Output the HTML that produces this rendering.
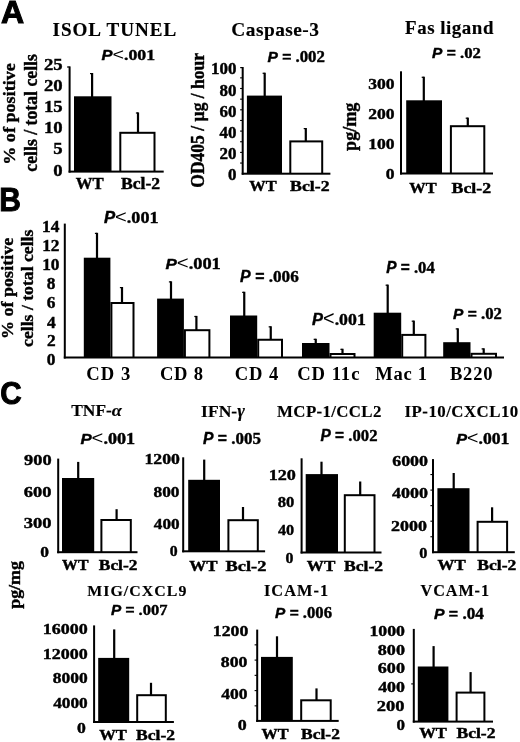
<!DOCTYPE html>
<html><head><meta charset="utf-8"><style>
html,body{margin:0;padding:0;background:#fff;}
body{width:520px;height:742px;overflow:hidden;}
svg{display:block;filter:blur(0.4px)}
text{stroke:#000;stroke-width:0.4px;}
.l text,text.l{stroke-width:0.15px}
.n text,text.n{stroke:none}
text.pl{stroke-width:1px}
</style></head><body>
<svg width="520" height="742" viewBox="0 0 520 742">
<rect width="520" height="742" fill="#fff"/>
<text transform="translate(0.90,22.50) scale(1.0301,1)" class="pl" x="0.00" y="0" font-size="31.10" font-family='"Liberation Sans", sans-serif' font-weight="bold" font-style="normal">A</text>
<text transform="translate(-0.71,210.70) scale(0.9173,1)" class="pl" x="0.00" y="0" font-size="32.70" font-family='"Liberation Sans", sans-serif' font-weight="bold" font-style="normal">B</text>
<text transform="translate(0.18,404.38) scale(0.9252,1)" class="pl" x="0.00" y="0" font-size="32.06" font-family='"Liberation Sans", sans-serif' font-weight="bold" font-style="normal">C</text>
<rect x="68.60" y="66.40" width="2.00" height="106.20" fill="#000"/>
<rect x="68.60" y="170.60" width="95.10" height="2.00" fill="#000"/>
<rect x="67.10" y="66.40" width="2.50" height="1.20" fill="#000"/>
<rect x="91.00" y="73.00" width="2.20" height="24.30" fill="#000"/>
<rect x="90.00" y="73.00" width="2.10" height="1.20" fill="#000"/>
<rect x="74.00" y="96.30" width="37.50" height="75.30" fill="#000"/>
<rect x="136.90" y="112.40" width="2.20" height="20.40" fill="#000"/>
<rect x="135.90" y="112.40" width="2.10" height="1.20" fill="#000"/>
<rect x="119.30" y="131.80" width="36.20" height="39.80" fill="#000"/>
<rect x="121.30" y="133.80" width="32.20" height="36.80" fill="#fff"/>
<text transform="translate(52.45,36.00) scale(1.0351,1)" class="l" letter-spacing="0.965" x="0.00" y="0" font-size="18.47" font-family='"Liberation Serif", serif' font-weight="bold" font-style="normal">ISOL TUNEL</text>
<g transform="translate(101.40,59.50) scale(1.1577,1)"><text x="0.00" y="0" font-size="14.24" font-family='"Liberation Sans", sans-serif' font-weight="bold" font-style="italic">P</text><text x="9.50" y="0" font-size="17.09" font-family='"Liberation Sans", sans-serif' font-weight="normal" font-style="normal" class="n">&lt;</text><text x="19.48" y="0" font-size="15.38" font-family='"Liberation Serif", serif' font-weight="bold" font-style="normal">.001</text></g>
<text transform="translate(43.97,69.70) scale(1.0700,1)" x="0.00" y="0" font-size="17.50" font-family='"Liberation Serif", serif' font-weight="bold" font-style="normal">25</text>
<text transform="translate(43.99,90.93) scale(1.0700,1)" x="0.00" y="0" font-size="17.50" font-family='"Liberation Serif", serif' font-weight="bold" font-style="normal">20</text>
<text transform="translate(43.97,112.09) scale(1.0700,1)" x="0.00" y="0" font-size="17.50" font-family='"Liberation Serif", serif' font-weight="bold" font-style="normal">15</text>
<text transform="translate(43.99,133.33) scale(1.0700,1)" x="0.00" y="0" font-size="17.50" font-family='"Liberation Serif", serif' font-weight="bold" font-style="normal">10</text>
<text transform="translate(53.33,154.44) scale(1.0700,1)" x="0.00" y="0" font-size="17.50" font-family='"Liberation Serif", serif' font-weight="bold" font-style="normal">5</text>
<text transform="translate(53.35,175.73) scale(1.0700,1)" x="0.00" y="0" font-size="17.50" font-family='"Liberation Serif", serif' font-weight="bold" font-style="normal">0</text>
<text transform="translate(75.66,188.95) scale(1.0626,1)" x="0.00" y="0" font-size="15.80" font-family='"Liberation Serif", serif' font-weight="bold" font-style="normal">WT</text>
<text transform="translate(121.00,188.95) scale(1.1154,1)" x="0.00" y="0" font-size="15.80" font-family='"Liberation Serif", serif' font-weight="bold" font-style="normal">Bcl-2</text>
<text transform="translate(14.70,164.75) rotate(-90) scale(1.0349,1)" y="0" fill="#000" xml:space="preserve"><tspan x="0.00" font-size="17.50" font-family='"Liberation Serif", serif' font-weight="bold" font-style="normal">% of positive</tspan></text>
<text transform="translate(36.80,171.70) rotate(-90) scale(0.9846,1)" y="0" fill="#000" xml:space="preserve"><tspan x="0.00" font-size="18.00" font-family='"Liberation Serif", serif' font-weight="bold" font-style="normal">cells / total cells</tspan></text>
<rect x="241.70" y="67.00" width="2.00" height="107.70" fill="#000"/>
<rect x="241.70" y="172.70" width="88.70" height="2.00" fill="#000"/>
<rect x="240.20" y="67.00" width="2.50" height="1.20" fill="#000"/>
<rect x="240.10" y="77.30" width="2.60" height="1.10" fill="#000"/>
<rect x="240.10" y="87.95" width="2.60" height="1.10" fill="#000"/>
<rect x="240.10" y="98.60" width="2.60" height="1.10" fill="#000"/>
<rect x="240.10" y="109.25" width="2.60" height="1.10" fill="#000"/>
<rect x="240.10" y="119.90" width="2.60" height="1.10" fill="#000"/>
<rect x="240.10" y="130.55" width="2.60" height="1.10" fill="#000"/>
<rect x="240.10" y="141.20" width="2.60" height="1.10" fill="#000"/>
<rect x="240.10" y="151.85" width="2.60" height="1.10" fill="#000"/>
<rect x="240.10" y="162.50" width="2.60" height="1.10" fill="#000"/>
<rect x="263.60" y="72.70" width="2.20" height="23.90" fill="#000"/>
<rect x="262.60" y="72.70" width="2.10" height="1.20" fill="#000"/>
<rect x="246.90" y="95.60" width="35.10" height="78.10" fill="#000"/>
<rect x="304.70" y="128.00" width="2.20" height="13.40" fill="#000"/>
<rect x="303.70" y="128.00" width="2.10" height="1.20" fill="#000"/>
<rect x="289.30" y="140.40" width="33.90" height="33.30" fill="#000"/>
<rect x="291.30" y="142.40" width="29.90" height="30.30" fill="#fff"/>
<text transform="translate(231.35,36.31) scale(1.0186,1)" class="l" letter-spacing="0.432" x="0.00" y="0" font-size="19.05" font-family='"Liberation Serif", serif' font-weight="bold" font-style="normal">Caspase-3</text>
<g transform="translate(267.42,61.90) scale(1.0514,1)"><text x="0.00" y="0" font-size="14.83" font-family='"Liberation Sans", sans-serif' font-weight="bold" font-style="italic">P</text><text x="14.01" y="0" font-size="14.83" font-family='"Liberation Sans", sans-serif' font-weight="bold" font-style="normal">=</text><text x="26.67" y="0" font-size="16.01" font-family='"Liberation Serif", serif' font-weight="bold" font-style="normal">.002</text></g>
<text transform="translate(211.01,74.44) scale(1.0800,1)" x="0.00" y="0" font-size="15.70" font-family='"Liberation Serif", serif' font-weight="bold" font-style="normal">100</text>
<text transform="translate(219.49,95.54) scale(1.0800,1)" x="0.00" y="0" font-size="15.70" font-family='"Liberation Serif", serif' font-weight="bold" font-style="normal">80</text>
<text transform="translate(219.49,116.74) scale(1.0800,1)" x="0.00" y="0" font-size="15.70" font-family='"Liberation Serif", serif' font-weight="bold" font-style="normal">60</text>
<text transform="translate(219.49,137.84) scale(1.0800,1)" x="0.00" y="0" font-size="15.70" font-family='"Liberation Serif", serif' font-weight="bold" font-style="normal">40</text>
<text transform="translate(219.49,159.04) scale(1.0800,1)" x="0.00" y="0" font-size="15.70" font-family='"Liberation Serif", serif' font-weight="bold" font-style="normal">20</text>
<text transform="translate(227.97,180.14) scale(1.0800,1)" x="0.00" y="0" font-size="15.70" font-family='"Liberation Serif", serif' font-weight="bold" font-style="normal">0</text>
<text transform="translate(249.37,190.56) scale(1.1022,1)" x="0.00" y="0" font-size="14.90" font-family='"Liberation Serif", serif' font-weight="bold" font-style="normal">WT</text>
<text transform="translate(290.10,190.56) scale(1.1920,1)" x="0.00" y="0" font-size="14.90" font-family='"Liberation Serif", serif' font-weight="bold" font-style="normal">Bcl-2</text>
<text transform="translate(203.50,187.76) rotate(-90) scale(0.9759,1)" y="0" fill="#000" xml:space="preserve"><tspan x="0.00" font-size="18.00" font-family='"Liberation Serif", serif' font-weight="bold" font-style="normal">OD405 / µg / hour</tspan></text>
<rect x="400.00" y="71.30" width="2.00" height="103.20" fill="#000"/>
<rect x="400.00" y="172.50" width="93.00" height="2.00" fill="#000"/>
<rect x="422.70" y="76.70" width="2.20" height="24.60" fill="#000"/>
<rect x="421.70" y="76.70" width="2.10" height="1.20" fill="#000"/>
<rect x="406.20" y="100.30" width="35.80" height="73.20" fill="#000"/>
<rect x="466.70" y="117.60" width="2.20" height="8.60" fill="#000"/>
<rect x="465.70" y="117.60" width="2.10" height="1.20" fill="#000"/>
<rect x="449.90" y="125.20" width="35.40" height="48.30" fill="#000"/>
<rect x="451.90" y="127.20" width="31.40" height="45.30" fill="#fff"/>
<text transform="translate(405.08,34.00) scale(1.0252,1)" class="l" letter-spacing="0.516" x="0.00" y="0" font-size="18.47" font-family='"Liberation Serif", serif' font-weight="bold" font-style="normal">Fas ligand</text>
<g transform="translate(432.12,58.20) scale(1.0769,1)"><text x="0.00" y="0" font-size="14.39" font-family='"Liberation Sans", sans-serif' font-weight="bold" font-style="italic">P</text><text x="13.60" y="0" font-size="14.39" font-family='"Liberation Sans", sans-serif' font-weight="bold" font-style="normal">=</text><text x="25.89" y="0" font-size="15.54" font-family='"Liberation Serif", serif' font-weight="bold" font-style="normal">.02</text></g>
<text transform="translate(368.25,89.45) scale(1.1900,1)" x="0.00" y="0" font-size="14.80" font-family='"Liberation Serif", serif' font-weight="bold" font-style="normal">300</text>
<text transform="translate(368.25,119.25) scale(1.1900,1)" x="0.00" y="0" font-size="14.80" font-family='"Liberation Serif", serif' font-weight="bold" font-style="normal">200</text>
<text transform="translate(368.25,149.35) scale(1.1900,1)" x="0.00" y="0" font-size="14.80" font-family='"Liberation Serif", serif' font-weight="bold" font-style="normal">100</text>
<text transform="translate(385.86,179.15) scale(1.1900,1)" x="0.00" y="0" font-size="14.80" font-family='"Liberation Serif", serif' font-weight="bold" font-style="normal">0</text>
<text transform="translate(409.37,192.56) scale(1.0804,1)" x="0.00" y="0" font-size="15.20" font-family='"Liberation Serif", serif' font-weight="bold" font-style="normal">WT</text>
<text transform="translate(451.60,192.56) scale(1.1716,1)" x="0.00" y="0" font-size="15.20" font-family='"Liberation Serif", serif' font-weight="bold" font-style="normal">Bcl-2</text>
<text transform="translate(356.20,150.94) rotate(-90) scale(1.0086,1)" y="0" fill="#000" xml:space="preserve"><tspan x="0.00" font-size="18.00" font-family='"Liberation Serif", serif' font-weight="bold" font-style="normal">pg/mg</tspan></text>
<rect x="63.80" y="223.60" width="2.00" height="134.90" fill="#000"/>
<rect x="63.80" y="356.50" width="440.20" height="2.00" fill="#000"/>
<rect x="95.90" y="232.80" width="2.20" height="25.90" fill="#000"/>
<rect x="94.90" y="232.80" width="2.10" height="1.20" fill="#000"/>
<rect x="83.80" y="257.70" width="26.60" height="99.80" fill="#000"/>
<rect x="120.90" y="287.00" width="2.20" height="16.00" fill="#000"/>
<rect x="119.90" y="287.00" width="2.10" height="1.20" fill="#000"/>
<rect x="110.40" y="302.00" width="24.10" height="55.50" fill="#000"/>
<rect x="112.40" y="304.00" width="20.10" height="52.50" fill="#fff"/>
<rect x="169.90" y="281.30" width="2.20" height="18.30" fill="#000"/>
<rect x="168.90" y="281.30" width="2.10" height="1.20" fill="#000"/>
<rect x="157.10" y="298.60" width="26.80" height="58.90" fill="#000"/>
<rect x="195.30" y="315.90" width="2.20" height="14.30" fill="#000"/>
<rect x="194.30" y="315.90" width="2.10" height="1.20" fill="#000"/>
<rect x="183.90" y="329.20" width="26.50" height="28.30" fill="#000"/>
<rect x="185.90" y="331.20" width="22.50" height="25.30" fill="#fff"/>
<rect x="243.15" y="291.75" width="2.20" height="24.75" fill="#000"/>
<rect x="242.15" y="291.75" width="2.10" height="1.20" fill="#000"/>
<rect x="230.00" y="315.50" width="27.20" height="42.00" fill="#000"/>
<rect x="269.65" y="326.25" width="2.20" height="13.50" fill="#000"/>
<rect x="268.65" y="326.25" width="2.10" height="1.20" fill="#000"/>
<rect x="257.20" y="338.75" width="25.80" height="18.75" fill="#000"/>
<rect x="259.20" y="340.75" width="21.80" height="15.75" fill="#fff"/>
<rect x="314.65" y="338.75" width="2.20" height="5.25" fill="#000"/>
<rect x="313.65" y="338.75" width="2.10" height="1.20" fill="#000"/>
<rect x="302.00" y="343.00" width="27.50" height="14.50" fill="#000"/>
<rect x="341.40" y="348.75" width="2.20" height="5.25" fill="#000"/>
<rect x="340.40" y="348.75" width="2.10" height="1.20" fill="#000"/>
<rect x="329.50" y="353.00" width="26.00" height="4.50" fill="#000"/>
<rect x="331.50" y="355.00" width="22.00" height="1.50" fill="#fff"/>
<rect x="386.60" y="284.60" width="2.20" height="29.10" fill="#000"/>
<rect x="385.60" y="284.60" width="2.10" height="1.20" fill="#000"/>
<rect x="373.70" y="312.70" width="27.50" height="44.80" fill="#000"/>
<rect x="412.70" y="320.60" width="2.20" height="14.30" fill="#000"/>
<rect x="411.70" y="320.60" width="2.10" height="1.20" fill="#000"/>
<rect x="401.20" y="333.90" width="25.20" height="23.60" fill="#000"/>
<rect x="403.20" y="335.90" width="21.20" height="20.60" fill="#fff"/>
<rect x="456.70" y="328.30" width="2.20" height="14.90" fill="#000"/>
<rect x="455.70" y="328.30" width="2.10" height="1.20" fill="#000"/>
<rect x="443.20" y="342.20" width="27.30" height="15.30" fill="#000"/>
<rect x="482.60" y="348.30" width="2.20" height="5.50" fill="#000"/>
<rect x="481.60" y="348.30" width="2.10" height="1.20" fill="#000"/>
<rect x="470.50" y="352.80" width="26.50" height="4.70" fill="#000"/>
<rect x="472.50" y="354.80" width="22.50" height="1.70" fill="#fff"/>
<text transform="translate(42.00,231.85) scale(1.0900,1)" x="0.00" y="0" font-size="15.90" font-family='"Liberation Serif", serif' font-weight="bold" font-style="normal">14</text>
<text transform="translate(42.21,250.76) scale(1.0900,1)" x="0.00" y="0" font-size="15.90" font-family='"Liberation Serif", serif' font-weight="bold" font-style="normal">12</text>
<text transform="translate(42.17,269.81) scale(1.0900,1)" x="0.00" y="0" font-size="15.90" font-family='"Liberation Serif", serif' font-weight="bold" font-style="normal">10</text>
<text transform="translate(46.87,289.21) scale(1.0900,1)" x="0.00" y="0" font-size="15.90" font-family='"Liberation Serif", serif' font-weight="bold" font-style="normal">8</text>
<text transform="translate(46.82,308.18) scale(1.0900,1)" x="0.00" y="0" font-size="15.90" font-family='"Liberation Serif", serif' font-weight="bold" font-style="normal">6</text>
<text transform="translate(46.90,327.63) scale(1.0900,1)" x="0.00" y="0" font-size="15.90" font-family='"Liberation Serif", serif' font-weight="bold" font-style="normal">4</text>
<text transform="translate(46.88,346.46) scale(1.0900,1)" x="0.00" y="0" font-size="15.90" font-family='"Liberation Serif", serif' font-weight="bold" font-style="normal">2</text>
<text transform="translate(46.87,365.21) scale(1.0900,1)" x="0.00" y="0" font-size="15.90" font-family='"Liberation Serif", serif' font-weight="bold" font-style="normal">0</text>
<text transform="translate(12.60,339.04) rotate(-90) scale(1.0318,1)" y="0" fill="#000" xml:space="preserve"><tspan x="0.00" font-size="17.50" font-family='"Liberation Serif", serif' font-weight="bold" font-style="normal">% of positive</tspan></text>
<text transform="translate(33.30,346.90) rotate(-90) scale(1.0101,1)" y="0" fill="#000" xml:space="preserve"><tspan x="0.00" font-size="17.50" font-family='"Liberation Serif", serif' font-weight="bold" font-style="normal">cells / total cells</tspan></text>
<g transform="translate(103.90,223.20) scale(1.0685,1)"><text x="0.00" y="0" font-size="15.70" font-family='"Liberation Sans", sans-serif' font-weight="bold" font-style="italic">P</text><text x="10.47" y="0" font-size="18.84" font-family='"Liberation Sans", sans-serif' font-weight="normal" font-style="normal" class="n">&lt;</text><text x="21.47" y="0" font-size="16.95" font-family='"Liberation Serif", serif' font-weight="bold" font-style="normal">.001</text></g>
<g transform="translate(165.39,269.20) scale(1.1155,1)"><text x="0.00" y="0" font-size="15.26" font-family='"Liberation Sans", sans-serif' font-weight="bold" font-style="italic">P</text><text x="10.18" y="0" font-size="18.31" font-family='"Liberation Sans", sans-serif' font-weight="normal" font-style="normal" class="n">&lt;</text><text x="20.87" y="0" font-size="16.48" font-family='"Liberation Serif", serif' font-weight="bold" font-style="normal">.001</text></g>
<g transform="translate(240.11,282.20) scale(0.9860,1)"><text x="0.00" y="0" font-size="16.13" font-family='"Liberation Sans", sans-serif' font-weight="bold" font-style="italic">P</text><text x="15.25" y="0" font-size="16.13" font-family='"Liberation Sans", sans-serif' font-weight="bold" font-style="normal">=</text><text x="29.02" y="0" font-size="17.42" font-family='"Liberation Serif", serif' font-weight="bold" font-style="normal">.006</text></g>
<g transform="translate(312.10,324.80) scale(1.0221,1)"><text x="0.00" y="0" font-size="16.13" font-family='"Liberation Sans", sans-serif' font-weight="bold" font-style="italic">P</text><text x="10.76" y="0" font-size="19.36" font-family='"Liberation Sans", sans-serif' font-weight="normal" font-style="normal" class="n">&lt;</text><text x="22.07" y="0" font-size="17.42" font-family='"Liberation Serif", serif' font-weight="bold" font-style="normal">.001</text></g>
<g transform="translate(386.22,273.20) scale(0.9827,1)"><text x="0.00" y="0" font-size="15.70" font-family='"Liberation Sans", sans-serif' font-weight="bold" font-style="italic">P</text><text x="14.83" y="0" font-size="15.70" font-family='"Liberation Sans", sans-serif' font-weight="bold" font-style="normal">=</text><text x="28.24" y="0" font-size="16.95" font-family='"Liberation Serif", serif' font-weight="bold" font-style="normal">.04</text></g>
<g transform="translate(453.12,318.80) scale(1.0556,1)"><text x="0.00" y="0" font-size="14.68" font-family='"Liberation Sans", sans-serif' font-weight="bold" font-style="italic">P</text><text x="13.87" y="0" font-size="14.68" font-family='"Liberation Sans", sans-serif' font-weight="bold" font-style="normal">=</text><text x="26.41" y="0" font-size="15.85" font-family='"Liberation Serif", serif' font-weight="bold" font-style="normal">.02</text></g>
<text transform="translate(86.29,379.79) scale(1.0195,1)" class="n" letter-spacing="0.986" x="0.00" y="0" font-size="18.30" font-family='"Liberation Serif", serif' font-weight="bold" font-style="normal">CD 3</text>
<text transform="translate(159.89,379.79) scale(1.0158,1)" class="n" letter-spacing="0.801" x="0.00" y="0" font-size="18.30" font-family='"Liberation Serif", serif' font-weight="bold" font-style="normal">CD 8</text>
<text transform="translate(234.69,379.79) scale(1.0173,1)" class="n" letter-spacing="0.885" x="0.00" y="0" font-size="18.30" font-family='"Liberation Serif", serif' font-weight="bold" font-style="normal">CD 4</text>
<text transform="translate(297.18,379.79) scale(1.0212,1)" class="n" letter-spacing="0.914" x="0.00" y="0" font-size="18.30" font-family='"Liberation Serif", serif' font-weight="bold" font-style="normal">CD 11c</text>
<text transform="translate(375.28,379.79) scale(1.0144,1)" class="n" letter-spacing="0.668" x="0.00" y="0" font-size="18.30" font-family='"Liberation Serif", serif' font-weight="bold" font-style="normal">Mac 1</text>
<text transform="translate(449.88,379.79) scale(1.0158,1)" class="n" letter-spacing="0.801" x="0.00" y="0" font-size="18.30" font-family='"Liberation Serif", serif' font-weight="bold" font-style="normal">B220</text>
<rect x="57.20" y="458.60" width="2.00" height="94.60" fill="#000"/>
<rect x="57.20" y="551.20" width="80.30" height="2.00" fill="#000"/>
<rect x="77.10" y="461.90" width="2.20" height="17.10" fill="#000"/>
<rect x="62.00" y="478.00" width="32.20" height="74.20" fill="#000"/>
<rect x="115.50" y="509.20" width="2.20" height="10.80" fill="#000"/>
<rect x="100.40" y="519.00" width="31.40" height="33.20" fill="#000"/>
<rect x="102.40" y="521.00" width="27.40" height="30.20" fill="#fff"/>
<text transform="translate(24.00,464.61) scale(1.2024,1)" x="0.00" y="0" font-size="15.30" font-family='"Liberation Serif", serif' font-weight="bold" font-style="normal">900</text>
<text transform="translate(23.87,496.51) scale(1.2083,1)" x="0.00" y="0" font-size="15.30" font-family='"Liberation Serif", serif' font-weight="bold" font-style="normal">600</text>
<text transform="translate(23.80,528.41) scale(1.2117,1)" x="0.00" y="0" font-size="15.30" font-family='"Liberation Serif", serif' font-weight="bold" font-style="normal">300</text>
<text transform="translate(40.14,556.61) scale(1.1407,1)" x="0.00" y="0" font-size="15.30" font-family='"Liberation Serif", serif' font-weight="bold" font-style="normal">0</text>
<g transform="translate(71.22,416.20) scale(1.0370,1)" class="l"><text x="0.00" y="0" font-size="16.79" font-family='"Liberation Serif", serif' font-weight="bold" font-style="normal">TNF-</text><text x="39.18" y="0" font-size="17.63" font-family='"Liberation Serif", serif' font-weight="bold" font-style="italic">α</text></g>
<g transform="translate(80.40,443.80) scale(1.1447,1)"><text x="0.00" y="0" font-size="14.68" font-family='"Liberation Sans", sans-serif' font-weight="bold" font-style="italic">P</text><text x="9.79" y="0" font-size="17.62" font-family='"Liberation Sans", sans-serif' font-weight="normal" font-style="normal" class="n">&lt;</text><text x="20.08" y="0" font-size="15.85" font-family='"Liberation Serif", serif' font-weight="bold" font-style="normal">.001</text></g>
<text transform="translate(62.08,570.20) scale(1.0905,1)" x="0.00" y="0" font-size="14.50" font-family='"Liberation Serif", serif' font-weight="bold" font-style="normal">WT</text>
<text transform="translate(98.80,570.20) scale(1.1994,1)" x="0.00" y="0" font-size="14.50" font-family='"Liberation Serif", serif' font-weight="bold" font-style="normal">Bcl-2</text>
<rect x="182.20" y="457.30" width="2.00" height="95.00" fill="#000"/>
<rect x="182.20" y="550.30" width="82.90" height="2.00" fill="#000"/>
<rect x="203.10" y="459.60" width="2.20" height="21.20" fill="#000"/>
<rect x="188.20" y="479.80" width="31.80" height="71.50" fill="#000"/>
<rect x="241.90" y="507.00" width="2.20" height="13.20" fill="#000"/>
<rect x="227.40" y="519.20" width="31.40" height="32.10" fill="#000"/>
<rect x="229.40" y="521.20" width="27.40" height="29.10" fill="#fff"/>
<text transform="translate(144.48,464.35) scale(1.1991,1)" x="0.00" y="0" font-size="14.80" font-family='"Liberation Serif", serif' font-weight="bold" font-style="normal">1200</text>
<text transform="translate(153.53,496.65) scale(1.1726,1)" x="0.00" y="0" font-size="14.80" font-family='"Liberation Serif", serif' font-weight="bold" font-style="normal">800</text>
<text transform="translate(153.86,529.05) scale(1.1619,1)" x="0.00" y="0" font-size="14.80" font-family='"Liberation Serif", serif' font-weight="bold" font-style="normal">400</text>
<text transform="translate(169.80,556.45) scale(1.0677,1)" x="0.00" y="0" font-size="14.80" font-family='"Liberation Serif", serif' font-weight="bold" font-style="normal">0</text>
<g transform="translate(201.10,417.20) scale(1.0347,1)" class="l"><text x="0.00" y="0" font-size="16.95" font-family='"Liberation Serif", serif' font-weight="bold" font-style="normal">IFN-</text><text x="34.83" y="0" font-size="17.79" font-family='"Liberation Serif", serif' font-weight="bold" font-style="italic">γ</text></g>
<g transform="translate(203.02,444.40) scale(1.0000,1)"><text x="0.00" y="0" font-size="15.70" font-family='"Liberation Sans", sans-serif' font-weight="bold" font-style="italic">P</text><text x="14.83" y="0" font-size="15.70" font-family='"Liberation Sans", sans-serif' font-weight="bold" font-style="normal">=</text><text x="28.24" y="0" font-size="16.95" font-family='"Liberation Serif", serif' font-weight="bold" font-style="normal">.005</text></g>
<text transform="translate(189.26,570.70) scale(1.1663,1)" x="0.00" y="0" font-size="14.50" font-family='"Liberation Serif", serif' font-weight="bold" font-style="normal">WT</text>
<text transform="translate(225.49,570.70) scale(1.2696,1)" x="0.00" y="0" font-size="14.50" font-family='"Liberation Serif", serif' font-weight="bold" font-style="normal">Bcl-2</text>
<rect x="300.60" y="458.30" width="2.00" height="95.20" fill="#000"/>
<rect x="300.60" y="551.50" width="80.90" height="2.00" fill="#000"/>
<rect x="320.40" y="461.70" width="2.20" height="13.40" fill="#000"/>
<rect x="305.70" y="474.10" width="32.30" height="78.40" fill="#000"/>
<rect x="359.10" y="481.50" width="2.20" height="13.70" fill="#000"/>
<rect x="343.80" y="494.20" width="31.70" height="58.30" fill="#000"/>
<rect x="345.80" y="496.20" width="27.70" height="55.30" fill="#fff"/>
<text transform="translate(268.65,479.78) scale(1.1717,1)" x="0.00" y="0" font-size="15.50" font-family='"Liberation Serif", serif' font-weight="bold" font-style="normal">120</text>
<text transform="translate(277.65,507.28) scale(1.0695,1)" x="0.00" y="0" font-size="15.50" font-family='"Liberation Serif", serif' font-weight="bold" font-style="normal">80</text>
<text transform="translate(277.97,534.78) scale(1.0480,1)" x="0.00" y="0" font-size="15.50" font-family='"Liberation Serif", serif' font-weight="bold" font-style="normal">40</text>
<text transform="translate(285.40,563.08) scale(1.0195,1)" x="0.00" y="0" font-size="15.50" font-family='"Liberation Serif", serif' font-weight="bold" font-style="normal">0</text>
<text transform="translate(277.11,416.70) scale(1.0133,1)" class="l" letter-spacing="0.335" x="0.00" y="0" font-size="16.64" font-family='"Liberation Serif", serif' font-weight="bold" font-style="normal">MCP-1/CCL2</text>
<g transform="translate(320.52,440.60) scale(0.9663,1)"><text x="0.00" y="0" font-size="15.99" font-family='"Liberation Sans", sans-serif' font-weight="bold" font-style="italic">P</text><text x="15.11" y="0" font-size="15.99" font-family='"Liberation Sans", sans-serif' font-weight="bold" font-style="normal">=</text><text x="28.76" y="0" font-size="17.27" font-family='"Liberation Serif", serif' font-weight="bold" font-style="normal">.002</text></g>
<text transform="translate(306.86,570.85) scale(1.1028,1)" x="0.00" y="0" font-size="15.50" font-family='"Liberation Serif", serif' font-weight="bold" font-style="normal">WT</text>
<text transform="translate(344.00,570.85) scale(1.1369,1)" x="0.00" y="0" font-size="15.50" font-family='"Liberation Serif", serif' font-weight="bold" font-style="normal">Bcl-2</text>
<rect x="432.00" y="459.10" width="2.00" height="94.10" fill="#000"/>
<rect x="432.00" y="551.20" width="82.80" height="2.00" fill="#000"/>
<rect x="430.40" y="474.00" width="2.60" height="1.10" fill="#000"/>
<rect x="430.40" y="489.55" width="2.60" height="1.10" fill="#000"/>
<rect x="430.40" y="505.10" width="2.60" height="1.10" fill="#000"/>
<rect x="430.40" y="520.65" width="2.60" height="1.10" fill="#000"/>
<rect x="430.40" y="536.20" width="2.60" height="1.10" fill="#000"/>
<rect x="452.60" y="473.00" width="2.20" height="16.20" fill="#000"/>
<rect x="437.40" y="488.20" width="32.10" height="64.00" fill="#000"/>
<rect x="491.00" y="507.30" width="2.20" height="14.50" fill="#000"/>
<rect x="476.60" y="520.80" width="31.50" height="31.40" fill="#000"/>
<rect x="478.60" y="522.80" width="27.50" height="28.40" fill="#fff"/>
<text transform="translate(392.19,466.15) scale(1.2126,1)" x="0.00" y="0" font-size="14.80" font-family='"Liberation Serif", serif' font-weight="bold" font-style="normal">6000</text>
<text transform="translate(392.05,498.35) scale(1.2175,1)" x="0.00" y="0" font-size="14.80" font-family='"Liberation Serif", serif' font-weight="bold" font-style="normal">4000</text>
<text transform="translate(391.05,530.75) scale(1.2141,1)" x="0.00" y="0" font-size="14.80" font-family='"Liberation Serif", serif' font-weight="bold" font-style="normal">2000</text>
<text transform="translate(419.18,557.85) scale(1.0996,1)" x="0.00" y="0" font-size="14.80" font-family='"Liberation Serif", serif' font-weight="bold" font-style="normal">0</text>
<text transform="translate(404.53,417.30) scale(1.0215,1)" class="l" letter-spacing="0.469" x="0.00" y="0" font-size="16.49" font-family='"Liberation Serif", serif' font-weight="bold" font-style="normal">IP-10/CXCL10</text>
<g transform="translate(456.21,443.80) scale(1.0910,1)"><text x="0.00" y="0" font-size="14.97" font-family='"Liberation Sans", sans-serif' font-weight="bold" font-style="italic">P</text><text x="9.99" y="0" font-size="17.97" font-family='"Liberation Sans", sans-serif' font-weight="normal" font-style="normal" class="n">&lt;</text><text x="20.48" y="0" font-size="16.17" font-family='"Liberation Serif", serif' font-weight="bold" font-style="normal">.001</text></g>
<text transform="translate(437.56,570.16) scale(1.1350,1)" x="0.00" y="0" font-size="14.90" font-family='"Liberation Serif", serif' font-weight="bold" font-style="normal">WT</text>
<text transform="translate(477.30,570.16) scale(1.1796,1)" x="0.00" y="0" font-size="14.90" font-family='"Liberation Serif", serif' font-weight="bold" font-style="normal">Bcl-2</text>
<text transform="translate(20.30,608.73) rotate(-90) scale(1.0201,1)" y="0" fill="#000" xml:space="preserve"><tspan x="0.00" font-size="17.50" font-family='"Liberation Serif", serif' font-weight="bold" font-style="normal">pg/mg</tspan></text>
<rect x="93.10" y="625.40" width="2.00" height="97.60" fill="#000"/>
<rect x="93.10" y="721.00" width="80.80" height="2.00" fill="#000"/>
<rect x="113.10" y="629.40" width="2.20" height="29.50" fill="#000"/>
<rect x="98.20" y="657.90" width="31.00" height="64.10" fill="#000"/>
<rect x="149.90" y="682.80" width="2.20" height="12.40" fill="#000"/>
<rect x="136.20" y="694.20" width="30.60" height="27.80" fill="#000"/>
<rect x="138.20" y="696.20" width="26.60" height="24.80" fill="#fff"/>
<text transform="translate(42.76,634.25) scale(1.2169,1)" x="0.00" y="0" font-size="14.80" font-family='"Liberation Serif", serif' font-weight="bold" font-style="normal">16000</text>
<text transform="translate(42.76,658.75) scale(1.2169,1)" x="0.00" y="0" font-size="14.80" font-family='"Liberation Serif", serif' font-weight="bold" font-style="normal">12000</text>
<text transform="translate(52.82,683.05) scale(1.1804,1)" x="0.00" y="0" font-size="14.80" font-family='"Liberation Serif", serif' font-weight="bold" font-style="normal">8000</text>
<text transform="translate(53.16,707.75) scale(1.1689,1)" x="0.00" y="0" font-size="14.80" font-family='"Liberation Serif", serif' font-weight="bold" font-style="normal">4000</text>
<text transform="translate(76.93,732.65) scale(1.1952,1)" x="0.00" y="0" font-size="14.80" font-family='"Liberation Serif", serif' font-weight="bold" font-style="normal">0</text>
<text transform="translate(87.13,595.90) scale(1.0411,1)" class="l" letter-spacing="0.996" x="0.00" y="0" font-size="15.27" font-family='"Liberation Serif", serif' font-weight="bold" font-style="normal">MIG/CXCL9</text>
<g transform="translate(111.02,614.90) scale(1.0658,1)"><text x="0.00" y="0" font-size="14.39" font-family='"Liberation Sans", sans-serif' font-weight="bold" font-style="italic">P</text><text x="13.60" y="0" font-size="14.39" font-family='"Liberation Sans", sans-serif' font-weight="bold" font-style="normal">=</text><text x="25.89" y="0" font-size="15.54" font-family='"Liberation Serif", serif' font-weight="bold" font-style="normal">.007</text></g>
<text transform="translate(99.27,739.89) scale(1.1220,1)" x="0.00" y="0" font-size="14.80" font-family='"Liberation Serif", serif' font-weight="bold" font-style="normal">WT</text>
<text transform="translate(136.10,739.89) scale(1.1876,1)" x="0.00" y="0" font-size="14.80" font-family='"Liberation Serif", serif' font-weight="bold" font-style="normal">Bcl-2</text>
<rect x="256.20" y="629.60" width="2.00" height="92.30" fill="#000"/>
<rect x="256.20" y="719.90" width="82.50" height="2.00" fill="#000"/>
<rect x="254.60" y="644.30" width="2.60" height="1.10" fill="#000"/>
<rect x="254.60" y="659.55" width="2.60" height="1.10" fill="#000"/>
<rect x="254.60" y="674.80" width="2.60" height="1.10" fill="#000"/>
<rect x="254.60" y="690.05" width="2.60" height="1.10" fill="#000"/>
<rect x="254.60" y="705.30" width="2.60" height="1.10" fill="#000"/>
<rect x="275.90" y="636.30" width="2.20" height="21.60" fill="#000"/>
<rect x="261.00" y="656.90" width="31.80" height="64.00" fill="#000"/>
<rect x="315.40" y="688.40" width="2.20" height="11.90" fill="#000"/>
<rect x="300.20" y="699.30" width="31.50" height="21.60" fill="#000"/>
<rect x="302.20" y="701.30" width="27.50" height="18.60" fill="#fff"/>
<text transform="translate(212.78,635.85) scale(1.1991,1)" x="0.00" y="0" font-size="14.80" font-family='"Liberation Serif", serif' font-weight="bold" font-style="normal">1200</text>
<text transform="translate(220.81,666.65) scale(1.2010,1)" x="0.00" y="0" font-size="14.80" font-family='"Liberation Serif", serif' font-weight="bold" font-style="normal">800</text>
<text transform="translate(221.15,698.55) scale(1.1852,1)" x="0.00" y="0" font-size="14.80" font-family='"Liberation Serif", serif' font-weight="bold" font-style="normal">400</text>
<text transform="translate(237.72,730.45) scale(1.2111,1)" x="0.00" y="0" font-size="14.80" font-family='"Liberation Serif", serif' font-weight="bold" font-style="normal">0</text>
<text transform="translate(263.94,596.40) scale(1.0400,1)" class="l" letter-spacing="0.994" x="0.00" y="0" font-size="15.73" font-family='"Liberation Serif", serif' font-weight="bold" font-style="normal">ICAM-1</text>
<g transform="translate(275.12,618.10) scale(1.0197,1)"><text x="0.00" y="0" font-size="15.12" font-family='"Liberation Sans", sans-serif' font-weight="bold" font-style="italic">P</text><text x="14.28" y="0" font-size="15.12" font-family='"Liberation Sans", sans-serif' font-weight="bold" font-style="normal">=</text><text x="27.19" y="0" font-size="16.33" font-family='"Liberation Serif", serif' font-weight="bold" font-style="normal">.006</text></g>
<text transform="translate(261.57,739.00) scale(1.1436,1)" x="0.00" y="0" font-size="14.20" font-family='"Liberation Serif", serif' font-weight="bold" font-style="normal">WT</text>
<text transform="translate(301.10,739.00) scale(1.2313,1)" x="0.00" y="0" font-size="14.20" font-family='"Liberation Serif", serif' font-weight="bold" font-style="normal">Bcl-2</text>
<rect x="412.80" y="628.90" width="2.00" height="93.70" fill="#000"/>
<rect x="412.80" y="720.60" width="80.20" height="2.00" fill="#000"/>
<rect x="411.20" y="683.35" width="2.60" height="1.10" fill="#000"/>
<rect x="432.50" y="646.10" width="2.20" height="21.40" fill="#000"/>
<rect x="417.80" y="666.50" width="30.60" height="55.10" fill="#000"/>
<rect x="469.50" y="672.10" width="2.20" height="20.50" fill="#000"/>
<rect x="455.60" y="691.60" width="29.80" height="30.00" fill="#000"/>
<rect x="457.60" y="693.60" width="25.80" height="27.00" fill="#fff"/>
<text transform="translate(369.38,635.85) scale(1.2027,1)" x="0.00" y="0" font-size="14.80" font-family='"Liberation Serif", serif' font-weight="bold" font-style="normal">1000</text>
<text transform="translate(377.80,654.65) scale(1.2246,1)" x="0.00" y="0" font-size="14.80" font-family='"Liberation Serif", serif' font-weight="bold" font-style="normal">800</text>
<text transform="translate(377.78,673.35) scale(1.2255,1)" x="0.00" y="0" font-size="14.80" font-family='"Liberation Serif", serif' font-weight="bold" font-style="normal">600</text>
<text transform="translate(378.15,692.25) scale(1.2086,1)" x="0.00" y="0" font-size="14.80" font-family='"Liberation Serif", serif' font-weight="bold" font-style="normal">400</text>
<text transform="translate(376.72,711.45) scale(1.2514,1)" x="0.00" y="0" font-size="14.80" font-family='"Liberation Serif", serif' font-weight="bold" font-style="normal">200</text>
<text transform="translate(396.45,730.15) scale(1.1474,1)" x="0.00" y="0" font-size="14.80" font-family='"Liberation Serif", serif' font-weight="bold" font-style="normal">0</text>
<text transform="translate(420.52,596.40) scale(1.0319,1)" class="l" letter-spacing="0.880" x="0.00" y="0" font-size="15.73" font-family='"Liberation Serif", serif' font-weight="bold" font-style="normal">VCAM-1</text>
<g transform="translate(433.91,619.40) scale(1.0901,1)"><text x="0.00" y="0" font-size="14.53" font-family='"Liberation Sans", sans-serif' font-weight="bold" font-style="italic">P</text><text x="13.74" y="0" font-size="14.53" font-family='"Liberation Sans", sans-serif' font-weight="bold" font-style="normal">=</text><text x="26.15" y="0" font-size="15.70" font-family='"Liberation Serif", serif' font-weight="bold" font-style="normal">.04</text></g>
<text transform="translate(419.27,738.17) scale(1.1612,1)" x="0.00" y="0" font-size="14.30" font-family='"Liberation Serif", serif' font-weight="bold" font-style="normal">WT</text>
<text transform="translate(456.40,738.17) scale(1.2323,1)" x="0.00" y="0" font-size="14.30" font-family='"Liberation Serif", serif' font-weight="bold" font-style="normal">Bcl-2</text>
</svg></body></html>
